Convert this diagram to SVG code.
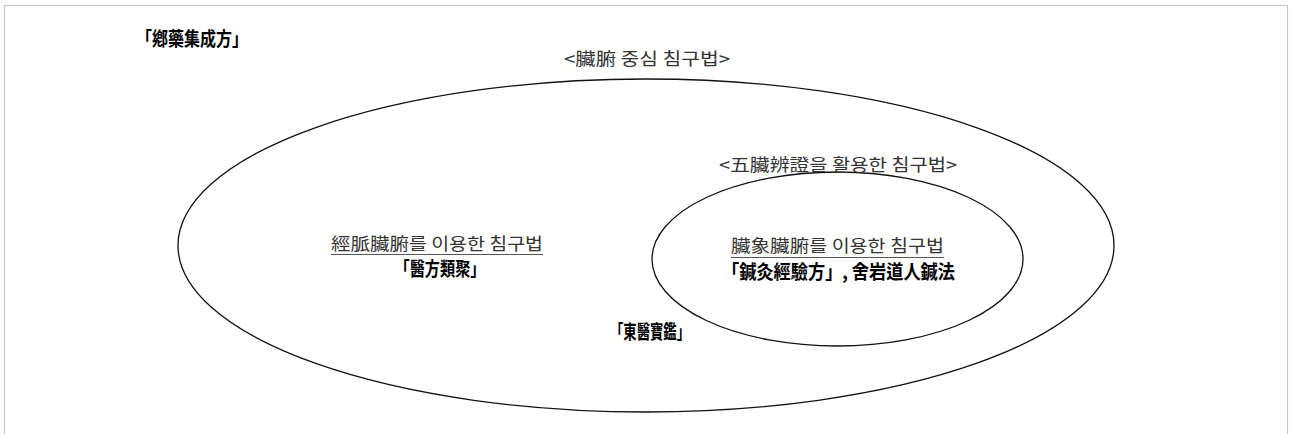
<svg xmlns="http://www.w3.org/2000/svg" width="1292" height="434" viewBox="0 0 1292 434">
<style>
.ell{fill:none;stroke:#111;stroke-width:1.3}
.lbl{font-family:"Noto Sans CJK KR","Noto Sans CJK SC",sans-serif;font-size:17.5px;fill:#333;text-anchor:middle}
.bk{font-family:"Noto Sans CJK KR","Noto Sans CJK SC",sans-serif;font-size:19.5px;font-weight:bold;fill:#000;text-anchor:middle}
.ul{stroke:#555;stroke-width:1}
</style>
<rect x="0" y="0" width="1292" height="434" fill="#fff"/>
<rect x="4.5" y="5.5" width="1283" height="440" fill="none" stroke="#c8c8c8" stroke-width="1.2"/>
<g id="title">
<text class="bk" x="192" y="46" textLength="112" lengthAdjust="spacingAndGlyphs">「鄕藥集成方」</text>
</g>
<g id="outer">
<ellipse class="ell" cx="646" cy="245.5" rx="468" ry="166.5"/>
<text class="lbl" x="647" y="65" textLength="166" lengthAdjust="spacingAndGlyphs">&lt;臟腑 중심 침구법&gt;</text>
<text class="lbl" x="437" y="250" textLength="212" lengthAdjust="spacingAndGlyphs">經脈臟腑를 이용한 침구법</text>
<line class="ul" x1="331" y1="254.5" x2="543" y2="254.5"/>
<text class="bk" x="440" y="275.5" textLength="91" lengthAdjust="spacingAndGlyphs">「醫方類聚」</text>
<text class="bk" x="650" y="338.5" textLength="80" lengthAdjust="spacingAndGlyphs">「東醫寶鑑」</text>
</g>
<g id="inner">
<ellipse class="ell" cx="837.5" cy="259" rx="185.5" ry="87"/>
<text class="lbl" x="838" y="171" textLength="238" lengthAdjust="spacingAndGlyphs">&lt;五臟辨證을 활용한 침구법&gt;</text>
<text class="lbl" x="837.5" y="252" textLength="213" lengthAdjust="spacingAndGlyphs">臟象臟腑를 이용한 침구법</text>
<line class="ul" x1="731" y1="257.5" x2="944" y2="257.5"/>
<text class="bk" x="838.5" y="278.5" textLength="233" lengthAdjust="spacingAndGlyphs">「鍼灸經驗方」, 舍岩道人鍼法</text>
</g>
</svg>
